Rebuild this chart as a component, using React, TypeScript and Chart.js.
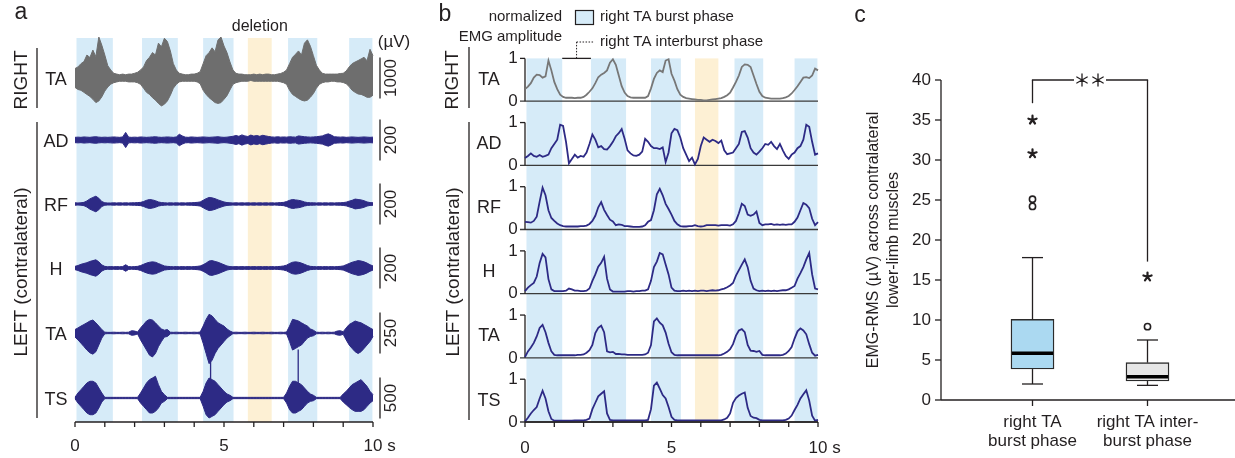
import React, { useEffect, useRef } from "react";
import { Chart, registerables } from "chart.js";
Chart.register(...registerables);

const W = 1235;
const H = 458;
const FONT = '"Liberation Sans", Arial, Helvetica, sans-serif';
const INK = "#231f20";
const NAVY = "#2d2a85";
const GRAY = "#6e6e6e";
const BURST_FILL = "#d6ebf8";
const DELETION_FILL = "#fdf0d4";
const BOX_FILLS = ["#abd9f1", "#e6e6e6"];

// ---------- shared time base (s) ----------
const TIME_S: number[] = Array.from({ length: 101 }, (_, k) => k / 10);
const X_TICKS_S = [0, 1, 2, 3, 4, 5, 6, 7, 8, 9, 10];
const X_LABELED_S = [0, 5, 10];

// phases (s)
const BURST_PHASES: number[][] = [[0.05, 1.27], [2.25, 3.45], [4.3, 5.32], [7.15, 8.13], [9.2, 9.98]];
const DELETION: number[] = [5.8, 6.6];

const MUSCLES = ["TA", "AD", "RF", "H", "TA", "TS"];
const SCALE_BARS_UV = [1000, 200, 200, 200, 250, 500];

// ---------- panel a: raw EMG extent per 0.1 s (µV, upward / downward) ----------
const RAW_R_TA_HI = [230,270,350,400,560,500,680,520,1000,800,560,300,195,115,
  95,80,95,80,95,95,115,140,195,
  270,425,505,620,560,850,760,970,890,660,350,195,
  115,95,80,80,95,95,115,155,
  350,545,620,735,640,930,1000,780,620,390,195,
  115,95,95,80,80,80,95,80,95,80,95,95,80,80,95,110,140,195,
  350,505,580,660,560,850,930,775,545,310,195,115,
  95,95,95,95,95,110,115,170,
  270,350,390,425,465,505,420,700,545];
const RAW_R_TA_LO = [230,280,300,350,400,450,520,600,560,460,320,220,150,115,
  95,80,80,80,95,95,95,115,155,
  250,350,400,480,540,620,680,640,560,420,250,155,
  95,80,80,80,80,80,95,140,
  300,400,480,540,600,620,600,520,430,290,155,
  115,95,80,80,80,60,80,80,80,80,80,80,80,80,80,95,115,155,
  300,400,450,500,540,560,540,470,380,250,155,115,
  95,95,80,80,95,95,110,140,
  210,300,350,390,400,430,470,470,420];
const RAW_AD = [13,14,13,15,14,13,15,16,14,13,14,13,14,15,14,13,15,
  37,
  14,13,14,13,15,14,13,14,15,16,14,13,14,15,14,13,15,
  28,20,
  14,13,15,14,13,14,15,14,13,14,15,16,14,13,14,16,18,
  22,18,25,20,17,24,19,22,18,23,20,17,
  15,14,16,14,15,14,16,15,14,20,18,16,15,14,15,16,18,20,
  26,30,24,
  16,15,14,15,13,14,15,14,13,14,15,14,13,14];
const RAW_RF = [6,5,6,8,
  15,25,32,38,28,12,
  6,5,5,6,5,6,5,6,5,6,6,7,8,
  12,18,22,20,16,10,7,
  6,5,6,5,6,5,6,5,6,6,7,8,10,
  18,26,32,30,26,20,15,10,7,6,
  5,6,5,6,5,6,5,6,5,6,5,6,5,6,5,6,7,8,
  12,18,22,20,18,15,10,7,6,6,
  5,6,5,6,5,6,5,6,6,7,9,
  14,18,24,22,20,16,10,7,6];
const RAW_H = [8,12,
  18,22,26,32,36,40,30,15,
  8,6,7,6,7,6,7,
  16,
  7,6,7,8,
  12,18,24,28,30,28,22,16,10,8,
  7,6,7,6,7,6,7,6,7,8,10,
  16,24,34,36,32,28,22,16,10,7,
  6,7,6,7,6,7,6,7,6,7,6,7,6,7,6,7,8,10,
  14,22,28,30,28,24,18,12,8,7,
  6,7,6,7,6,7,6,7,8,10,
  16,22,28,32,36,34,30,24,16,10];
const RAW_L_TA_HI = [21,31,42,52,62,73,79,62,42,21,
  5,4,4,5,4,4,5,4,5,14,12,6,
  31,52,73,83,79,62,42,25,17,21,
  5,4,5,4,4,5,4,4,5,4,6,
  42,83,114,104,83,62,52,42,25,12,
  4,5,4,4,5,4,4,5,4,4,5,4,4,5,4,4,5,4,6,
  42,83,79,73,62,52,42,25,17,
  5,4,5,4,5,4,5,12,14,8,
  31,52,62,73,67,62,52,42,31,21];
const RAW_L_TA_LO = [25,42,62,83,104,121,129,114,73,31,
  5,4,4,5,4,4,5,4,5,14,12,6,
  42,73,104,135,146,125,83,52,25,21,
  5,4,5,4,4,5,4,4,5,4,6,
  62,125,187,166,125,94,73,52,31,17,
  4,5,4,4,5,4,4,5,4,4,5,4,4,5,4,4,5,4,6,
  52,104,94,83,73,52,31,21,17,
  5,4,5,4,5,4,5,12,14,8,
  42,73,94,114,125,114,94,73,52,21];
const RAW_TS_HI = [10,
  61,102,142,183,204,204,183,122,61,
  8,8,8,8,8,8,8,8,8,8,8,8,
  61,122,183,224,244,265,163,81,41,
  8,8,8,8,8,8,8,8,8,8,8,8,
  81,183,244,224,204,163,122,81,49,33,
  8,8,8,8,8,8,8,8,8,8,8,8,8,8,8,8,8,8,
  61,142,204,204,183,163,122,81,49,33,
  8,8,8,8,8,8,8,8,8,
  49,81,122,163,183,204,224,183,142,81,41];
const RAW_TS_LO = [10,
  61,102,142,183,204,204,183,122,49,
  8,8,8,8,8,8,8,8,8,8,8,8,
  61,102,142,183,183,163,122,61,41,
  8,8,8,8,8,8,8,8,8,8,8,8,
  102,204,244,224,204,163,122,81,49,33,
  8,8,8,8,8,8,8,8,8,8,8,8,8,8,8,8,8,8,
  61,142,183,183,163,142,102,61,41,33,
  8,8,8,8,8,8,8,8,8,
  49,81,114,142,163,163,163,142,102,61,33];
const TS_SPIKE_T = [4.55, 7.49];
const TS_SPIKE_UV = [450, 590];

// ---------- panel b: normalized envelopes ----------
const NORM_R_TA = [0.28,0.34,0.42,0.55,0.62,0.61,0.55,0.58,0.95,0.72,
  0.45,0.28,0.15,0.10,0.08,0.08,0.08,0.07,0.08,0.08,
  0.10,0.15,0.22,0.30,0.42,0.56,0.62,0.66,0.72,0.90,
  0.98,0.85,0.60,0.35,0.20,0.12,0.09,0.08,0.08,0.08,
  0.08,0.08,0.12,0.30,0.52,0.66,0.72,0.68,0.95,0.98,
  0.64,0.48,0.28,0.15,0.10,0.07,0.06,0.05,0.04,0.03,
  0.03,0.02,0.02,0.03,0.04,0.05,0.06,0.07,0.10,0.14,
  0.20,0.32,0.45,0.60,0.80,0.86,0.85,0.80,0.60,0.40,
  0.22,0.12,0.08,0.07,0.06,0.06,0.06,0.06,0.07,0.09,
  0.12,0.18,0.26,0.35,0.45,0.55,0.56,0.54,0.60,0.76,
  0.72];
const NORM_AD = [0.17,0.22,0.28,0.22,0.20,0.24,0.20,0.22,0.25,0.40,
  0.50,0.60,0.95,0.92,0.55,0.05,0.15,0.25,0.18,0.22,
  0.20,0.30,0.50,0.72,0.60,0.42,0.45,0.38,0.37,0.45,
  0.55,0.68,0.75,0.85,0.62,0.35,0.28,0.23,0.22,0.25,
  0.32,0.62,0.55,0.45,0.40,0.40,0.38,0.42,0.08,0.30,
  0.75,0.85,0.82,0.65,0.40,0.25,0.10,0.18,0.02,0.15,
  0.45,0.65,0.60,0.55,0.60,0.57,0.52,0.58,0.35,0.26,
  0.28,0.30,0.40,0.50,0.78,0.80,0.65,0.40,0.30,0.25,
  0.32,0.40,0.50,0.48,0.55,0.45,0.38,0.50,0.35,0.22,
  0.15,0.25,0.30,0.40,0.45,0.60,0.95,0.90,0.55,0.25,
  0.28];
const NORM_RF = [0.18,0.17,0.16,0.20,0.30,0.65,0.98,0.80,0.45,0.27,
  0.20,0.14,0.10,0.08,0.07,0.07,0.07,0.07,0.07,0.08,
  0.08,0.09,0.13,0.20,0.32,0.52,0.64,0.46,0.34,0.23,
  0.19,0.10,0.12,0.11,0.08,0.08,0.07,0.06,0.06,0.06,
  0.07,0.10,0.18,0.22,0.45,0.82,0.95,0.80,0.60,0.48,
  0.35,0.20,0.12,0.08,0.07,0.07,0.08,0.08,0.10,0.08,
  0.07,0.08,0.10,0.10,0.10,0.10,0.09,0.10,0.10,0.10,
  0.09,0.12,0.20,0.38,0.60,0.55,0.35,0.32,0.35,0.42,
  0.15,0.10,0.12,0.12,0.13,0.11,0.12,0.11,0.12,0.11,
  0.12,0.12,0.18,0.28,0.45,0.62,0.58,0.50,0.25,0.10,
  0.17];
const NORM_H = [0.06,0.14,0.20,0.25,0.40,0.72,0.93,0.85,0.34,0.10,
  0.06,0.06,0.06,0.06,0.07,0.12,0.10,0.07,0.07,0.06,
  0.06,0.07,0.12,0.30,0.45,0.63,0.72,0.86,0.35,0.10,
  0.05,0.05,0.05,0.05,0.05,0.06,0.06,0.05,0.06,0.06,
  0.07,0.07,0.10,0.30,0.62,0.75,0.95,0.92,0.68,0.45,
  0.14,0.07,0.06,0.06,0.07,0.06,0.07,0.06,0.07,0.06,
  0.07,0.07,0.06,0.07,0.08,0.07,0.08,0.10,0.12,0.15,
  0.19,0.25,0.42,0.55,0.68,0.80,0.62,0.30,0.12,0.08,
  0.06,0.07,0.06,0.07,0.06,0.07,0.06,0.07,0.08,0.08,
  0.10,0.14,0.18,0.35,0.48,0.62,0.80,0.95,0.45,0.12,
  0.10];
const NORM_L_TA = [0.02,0.15,0.24,0.35,0.50,0.70,0.77,0.60,0.35,0.15,
  0.07,0.06,0.06,0.06,0.06,0.06,0.06,0.06,0.07,0.07,
  0.08,0.12,0.18,0.30,0.58,0.70,0.75,0.60,0.15,0.13,
  0.14,0.09,0.09,0.08,0.08,0.07,0.07,0.07,0.07,0.07,
  0.07,0.08,0.12,0.30,0.85,0.92,0.82,0.76,0.59,0.33,
  0.13,0.07,0.06,0.06,0.06,0.06,0.06,0.06,0.06,0.06,
  0.06,0.06,0.06,0.06,0.06,0.06,0.06,0.07,0.10,0.14,
  0.20,0.32,0.52,0.64,0.67,0.60,0.30,0.17,0.16,0.14,
  0.16,0.07,0.06,0.06,0.06,0.06,0.06,0.06,0.07,0.10,
  0.16,0.25,0.45,0.62,0.69,0.64,0.55,0.32,0.12,0.05,
  0.07];
const NORM_TS = [0.01,0.10,0.20,0.28,0.35,0.55,0.73,0.55,0.25,0.07,
  0.03,0.03,0.03,0.03,0.03,0.03,0.03,0.04,0.04,0.04,
  0.04,0.05,0.08,0.30,0.45,0.60,0.66,0.72,0.20,0.05,
  0.04,0.04,0.04,0.04,0.04,0.04,0.04,0.04,0.04,0.04,
  0.04,0.04,0.05,0.30,0.85,0.92,0.78,0.63,0.55,0.35,
  0.12,0.05,0.04,0.04,0.04,0.04,0.04,0.04,0.04,0.04,
  0.04,0.04,0.04,0.04,0.04,0.04,0.04,0.04,0.06,0.10,
  0.20,0.45,0.56,0.62,0.66,0.69,0.33,0.14,0.10,0.09,
  0.05,0.04,0.04,0.04,0.04,0.04,0.04,0.04,0.04,0.05,
  0.08,0.15,0.28,0.40,0.55,0.65,0.74,0.50,0.15,0.03,
  0.05];

// ---------- panel c: box plot ----------
const CATEGORIES = ["right TA burst phase", "right TA inter-burst phase"];
const CATEGORY_LINES = [["right TA", "burst phase"], ["right TA inter-", "burst phase"]];
const BOX_MIN = [2.0, 1.83];
const BOX_Q1 = [3.87, 2.37];
const BOX_MEDIAN = [5.83, 2.92];
const BOX_Q3 = [10.08, 4.67];
const BOX_MAX = [17.8, 7.5];
const OUTLIER_CIRCLES = [[25.1, 24.2], [9.17]];
const OUTLIER_STARS = [[35.0, 30.8], [15.4]];
const Y_TICKS_C = [0, 5, 10, 15, 20, 25, 30, 35, 40];
const SIG_LEVEL = 40;
const SIG_ENDS = [37.1, 17.3];
const Y_TITLE_C = ["EMG-RMS (µV) across contralateral", "lower-limb muscles"];

// ---------- layout constants ----------
const A_BASE = [344, 282, 218, 154, 89, 24]; // px above x axis
const A_BAR_PX = 41;
const B_ROW_STEP = 1.5;

// ---------- drawing helpers ----------
function txt(ctx: CanvasRenderingContext2D, s: string, x: number, y: number, size: number, o: any = {}) {
  ctx.save();
  ctx.font = `${o.weight || "normal"} ${size}px ${FONT}`;
  ctx.fillStyle = o.color || INK;
  ctx.textAlign = o.align || "center";
  ctx.textBaseline = "middle";
  ctx.translate(x, y);
  if (o.rot) ctx.rotate(o.rot);
  ctx.fillText(s, 0, 0);
  ctx.restore();
}
function seg(ctx: CanvasRenderingContext2D, x1: number, y1: number, x2: number, y2: number, color = INK, w = 1.2, dash: number[] = []) {
  ctx.save();
  ctx.strokeStyle = color;
  ctx.lineWidth = w;
  ctx.setLineDash(dash);
  ctx.beginPath();
  ctx.moveTo(x1, y1);
  ctx.lineTo(x2, y2);
  ctx.stroke();
  ctx.restore();
}
function asterisk(ctx: CanvasRenderingContext2D, x: number, y: number, r: number, arms: number, w: number) {
  ctx.save();
  ctx.strokeStyle = INK;
  ctx.lineWidth = w;
  ctx.lineCap = "round";
  ctx.beginPath();
  for (let i = 0; i < arms; i++) {
    const a = -Math.PI / 2 + (i * 2 * Math.PI) / arms;
    ctx.moveTo(x, y);
    ctx.lineTo(x + r * Math.cos(a), y + r * Math.sin(a));
  }
  ctx.stroke();
  ctx.restore();
}
function timeAxis(ctx: CanvasRenderingContext2D, x: any, y0: number, labelY: number) {
  seg(ctx, x.getPixelForValue(0), y0, x.getPixelForValue(10), y0, INK, 1.3);
  X_TICKS_S.forEach((t) => {
    const px = x.getPixelForValue(t);
    seg(ctx, px, y0, px, y0 + 5, INK, 1.3);
  });
  X_LABELED_S.forEach((t) => {
    const px = x.getPixelForValue(t);
    txt(ctx, String(t), px, labelY, 17);
    if (t === 10) {
      ctx.save();
      ctx.font = `17px ${FONT}`;
      const wNum = ctx.measureText("10").width;
      ctx.restore();
      txt(ctx, " s", px + wNum / 2, labelY, 17, { align: "left" });
    }
  });
}
function shading(ctx: CanvasRenderingContext2D, x: any, top: number, bottom: number) {
  ctx.save();
  ctx.fillStyle = BURST_FILL;
  BURST_PHASES.forEach(([a, b]) => {
    const pa = x.getPixelForValue(a);
    ctx.fillRect(pa, top, x.getPixelForValue(b) - pa, bottom - top);
  });
  ctx.fillStyle = DELETION_FILL;
  const pd = x.getPixelForValue(DELETION[0]);
  ctx.fillRect(pd, top, x.getPixelForValue(DELETION[1]) - pd, bottom - top);
  ctx.restore();
}

function commonOptions(padding: any, xmin: number, xmax: number, ymin: number, ymax: number) {
  return {
    animation: false,
    responsive: false,
    maintainAspectRatio: false,
    events: [],
    layout: { padding },
    plugins: { legend: { display: false }, tooltip: { enabled: false } },
    scales: {
      x: { type: "linear", display: false, min: xmin, max: xmax },
      y: { type: "linear", display: false, min: ymin, max: ymax },
    },
    elements: { line: { tension: 0 }, point: { radius: 0 } },
  };
}

// ---------- panel a ----------
function panelAConfig(): any {
  const rows = [
    { hi: RAW_R_TA_HI, lo: RAW_R_TA_LO, color: GRAY },
    { hi: RAW_AD, lo: RAW_AD, color: NAVY },
    { hi: RAW_RF, lo: RAW_RF, color: NAVY },
    { hi: RAW_H, lo: RAW_H, color: NAVY },
    { hi: RAW_L_TA_HI, lo: RAW_L_TA_LO, color: NAVY },
    { hi: RAW_TS_HI, lo: RAW_TS_LO, color: NAVY },
  ];
  const datasets: any[] = [];
  rows.forEach((r, i) => {
    const k = A_BAR_PX / SCALE_BARS_UV[i];
    // raw trace: filled band between upward and downward extremes
    datasets.push({
      data: TIME_S.map((t, j) => ({ x: t, y: A_BASE[i] + r.hi[j] * k })),
      borderColor: r.color, backgroundColor: r.color, borderWidth: 1, fill: "+1", pointRadius: 0, clip: 6,
    });
    datasets.push({
      data: TIME_S.map((t, j) => ({ x: t, y: A_BASE[i] - r.lo[j] * k })),
      borderColor: r.color, borderWidth: 1, fill: false, pointRadius: 0, clip: 6,
    });
  });
  const spikes: any[] = [];
  TS_SPIKE_T.forEach((t, i) => {
    spikes.push({ x: t, y: A_BASE[5] }, { x: t, y: A_BASE[5] + (TS_SPIKE_UV[i] * A_BAR_PX) / SCALE_BARS_UV[5] }, { x: t, y: null });
  });
  datasets.push({ data: spikes, borderColor: NAVY, borderWidth: 1.3, fill: false, pointRadius: 0, spanGaps: false, clip: 60 });

  const plugin = {
    id: "panelA",
    beforeDatasetsDraw(chart: any) {
      const { ctx, chartArea: ca, scales } = chart;
      shading(ctx, scales.x, ca.top, ca.bottom);
    },
    afterDraw(chart: any) {
      const { ctx, scales } = chart;
      const x = scales.x, y = scales.y;
      timeAxis(ctx, x, y.getPixelForValue(0), 446);
      A_BASE.forEach((b, i) => {
        const py = y.getPixelForValue(b);
        txt(ctx, MUSCLES[i], 56, py + 2, 18);
        const y1 = y.getPixelForValue(b + A_BAR_PX / 2);
        const y2 = y.getPixelForValue(b - A_BAR_PX / 2);
        seg(ctx, 380, y1, 380, y2, INK, 1.3);
        txt(ctx, String(SCALE_BARS_UV[i]), 391, py, 17, { rot: -Math.PI / 2 });
      });
      txt(ctx, "(µV)", 394, 42, 17);
      txt(ctx, "deletion", (x.getPixelForValue(DELETION[0]) + x.getPixelForValue(DELETION[1])) / 2, 27, 16);
      txt(ctx, "a", 21, 13, 23);
      txt(ctx, "RIGHT", 22, 80, 19, { rot: -Math.PI / 2 });
      seg(ctx, 37, 48, 37, 108, INK, 1.3);
      txt(ctx, "LEFT (contralateral)", 22, 272, 19, { rot: -Math.PI / 2 });
      seg(ctx, 37, 122, 37, 418, INK, 1.3);
    },
  };
  return {
    type: "line",
    data: { datasets },
    options: commonOptions({ left: 75, right: W - 373, top: 38, bottom: H - 422 }, 0, 10, 0, 384),
    plugins: [plugin],
  };
}

// ---------- panel b ----------
function panelBConfig(): any {
  const series = [NORM_R_TA, NORM_AD, NORM_RF, NORM_H, NORM_L_TA, NORM_TS];
  const datasets = series.map((arr, i) => {
    const base = (5 - i) * B_ROW_STEP;
    return {
      data: TIME_S.map((t, j) => ({ x: t, y: base + arr[j] })),
      borderColor: i === 0 ? "#777777" : NAVY,
      borderWidth: 1.8,
      fill: false,
      pointRadius: 0,
      clip: 6,
    };
  });
  const plugin = {
    id: "panelB",
    beforeDatasetsDraw(chart: any) {
      const { ctx, chartArea: ca, scales } = chart;
      const x = scales.x, y = scales.y;
      shading(ctx, x, y.getPixelForValue(5 * B_ROW_STEP + 1), ca.bottom);
      const x0 = x.getPixelForValue(0);
      for (let i = 0; i < 6; i++) {
        const base = (5 - i) * B_ROW_STEP;
        const p0 = y.getPixelForValue(base);
        const p1 = y.getPixelForValue(base + 1);
        seg(ctx, x0 - 5, p0, x.getPixelForValue(10), p0, "#3a3a3a", 1.3);
        seg(ctx, x0, p0, x0, p1, INK, 1.3);
        seg(ctx, x0 - 5, p1, x0, p1, INK, 1.3);
      }
    },
    afterDraw(chart: any) {
      const { ctx, scales } = chart;
      const x = scales.x, y = scales.y;
      timeAxis(ctx, x, y.getPixelForValue(0), 448);
      for (let i = 0; i < 6; i++) {
        const base = (5 - i) * B_ROW_STEP;
        txt(ctx, "1", 513, y.getPixelForValue(base + 1), 17);
        txt(ctx, "0", 513, y.getPixelForValue(base), 17);
        txt(ctx, MUSCLES[i], 489, y.getPixelForValue(base + 0.5), 18);
      }
      txt(ctx, "b", 445, 15, 23);
      txt(ctx, "RIGHT", 453, 80, 19, { rot: -Math.PI / 2 });
      seg(ctx, 469, 47, 469, 108, INK, 1.3);
      txt(ctx, "LEFT (contralateral)", 454, 272, 19, { rot: -Math.PI / 2 });
      seg(ctx, 469, 122, 469, 420, INK, 1.3);
      txt(ctx, "normalized", 562, 17, 15, { align: "right" });
      txt(ctx, "EMG amplitude", 562, 37, 15, { align: "right" });
      // legend
      ctx.save();
      ctx.fillStyle = BURST_FILL;
      ctx.fillRect(575, 10, 18, 14);
      ctx.strokeStyle = INK;
      ctx.lineWidth = 1.2;
      ctx.strokeRect(575.5, 10.5, 18, 14);
      ctx.restore();
      txt(ctx, "right TA burst phase", 600, 17, 15, { align: "left" });
      txt(ctx, "right TA interburst phase", 600, 42, 15, { align: "left" });
      const ia = x.getPixelForValue(BURST_PHASES[0][1]);
      const ib = x.getPixelForValue(BURST_PHASES[1][0]);
      const yTop = y.getPixelForValue(5 * B_ROW_STEP + 1);
      seg(ctx, ia, yTop, ib, yTop, INK, 1.3);
      const mid = (ia + ib) / 2;
      seg(ctx, mid, yTop, mid, 42, INK, 1, [1.5, 1.5]);
      seg(ctx, mid, 42, 594, 42, INK, 1, [1.5, 1.5]);
    },
  };
  return {
    type: "line",
    data: { datasets },
    options: commonOptions({ left: 525, right: W - 818, top: 37, bottom: H - 422 }, 0, 10, 0, 6 * B_ROW_STEP),
    plugins: [plugin],
  };
}

// ---------- panel c ----------
function panelCConfig(): any {
  const circles: any[] = [];
  OUTLIER_CIRCLES.forEach((vals, i) => vals.forEach((v) => circles.push({ x: CATEGORIES[i], y: v })));
  const plugin = {
    id: "panelC",
    afterDatasetsDraw(chart: any) {
      const { ctx, scales } = chart;
      const x = scales.x, y = scales.y;
      CATEGORIES.forEach((c, i) => {
        const cx = x.getPixelForValue(i);
        seg(ctx, cx, y.getPixelForValue(BOX_Q3[i]), cx, y.getPixelForValue(BOX_MAX[i]), INK, 1.3);
        seg(ctx, cx, y.getPixelForValue(BOX_Q1[i]), cx, y.getPixelForValue(BOX_MIN[i]), INK, 1.3);
        seg(ctx, cx - 10.5, y.getPixelForValue(BOX_MAX[i]), cx + 10.5, y.getPixelForValue(BOX_MAX[i]), INK, 1.3);
        seg(ctx, cx - 10.5, y.getPixelForValue(BOX_MIN[i]), cx + 10.5, y.getPixelForValue(BOX_MIN[i]), INK, 1.3);
        seg(ctx, cx - 20.5, y.getPixelForValue(BOX_MEDIAN[i]), cx + 20.5, y.getPixelForValue(BOX_MEDIAN[i]), "#000", 3.5);
        OUTLIER_STARS[i].forEach((v) => asterisk(ctx, cx, y.getPixelForValue(v), 4.3, 5, 2.2));
      });
      // significance bracket
      const xl = x.getPixelForValue(0), xr = x.getPixelForValue(1);
      const yt = y.getPixelForValue(SIG_LEVEL);
      const cxm = (xl + xr) / 2;
      seg(ctx, xl, y.getPixelForValue(SIG_ENDS[0]), xl, yt, INK, 1.3);
      seg(ctx, xr, y.getPixelForValue(SIG_ENDS[1]), xr, yt, INK, 1.3);
      seg(ctx, xl - 0.6, yt, cxm - 16, yt, INK, 1.3);
      seg(ctx, cxm + 16, yt, xr + 0.6, yt, INK, 1.3);
      asterisk(ctx, cxm - 8, yt, 6, 6, 1.3);
      asterisk(ctx, cxm + 8, yt, 6, 6, 1.3);
    },
    afterDraw(chart: any) {
      const { ctx, scales } = chart;
      const x = scales.x, y = scales.y;
      const ax = 941;
      const y0 = y.getPixelForValue(0);
      seg(ctx, ax, y0, ax, y.getPixelForValue(40), INK, 1.3);
      Y_TICKS_C.forEach((v) => {
        const py = y.getPixelForValue(v);
        seg(ctx, ax - 6, py, ax, py, INK, 1.3);
        txt(ctx, String(v), 931, py, 17, { align: "right" });
      });
      seg(ctx, ax, y0, W, y0, INK, 1.3);
      CATEGORIES.forEach((c, i) => {
        const cx = x.getPixelForValue(i);
        seg(ctx, cx, y0, cx, y0 + 6, INK, 1.3);
        txt(ctx, CATEGORY_LINES[i][0], cx, 422, 17);
        txt(ctx, CATEGORY_LINES[i][1], cx, 441, 17);
      });
      const ym = (y.getPixelForValue(0) + y.getPixelForValue(40)) / 2;
      txt(ctx, Y_TITLE_C[0], 874, ym, 16, { rot: -Math.PI / 2 });
      txt(ctx, Y_TITLE_C[1], 894, ym, 16, { rot: -Math.PI / 2 });
      txt(ctx, "c", 860, 16, 23);
    },
  };
  return {
    type: "bar",
    data: {
      labels: CATEGORIES,
      datasets: [
        {
          type: "bar",
          data: BOX_Q1.map((q, i) => [q, BOX_Q3[i]]),
          backgroundColor: BOX_FILLS,
          borderColor: "#2b2b2b",
          borderWidth: 1.4,
          borderSkipped: false,
          barThickness: 43,
        },
        {
          type: "scatter",
          data: circles,
          pointRadius: 3.1,
          pointBackgroundColor: "#ffffff",
          pointBorderColor: INK,
          pointBorderWidth: 1.6,
          showLine: false,
        },
      ],
    },
    options: {
      animation: false,
      responsive: false,
      maintainAspectRatio: false,
      events: [],
      layout: { padding: { left: 975, right: W - 1205, top: 80, bottom: H - 400 } },
      plugins: { legend: { display: false }, tooltip: { enabled: false } },
      scales: {
        x: { type: "category", display: false, offset: true },
        y: { type: "linear", display: false, min: 0, max: 40 },
      },
    },
    plugins: [plugin],
  };
}

export default function App() {
  const refA = useRef<HTMLCanvasElement>(null);
  const refB = useRef<HTMLCanvasElement>(null);
  const refC = useRef<HTMLCanvasElement>(null);
  useEffect(() => {
    const charts = [
      new Chart(refA.current as any, panelAConfig()),
      new Chart(refB.current as any, panelBConfig()),
      new Chart(refC.current as any, panelCConfig()),
    ];
    return () => charts.forEach((c) => c.destroy());
  }, []);
  const cs: any = { position: "absolute", left: 0, top: 0, width: W, height: H };
  return (
    <div style={{ position: "absolute", left: 0, top: 0, width: W, height: H, background: "#fff", overflow: "hidden" }}>
      <canvas ref={refA} width={W} height={H} style={cs} />
      <canvas ref={refB} width={W} height={H} style={cs} />
      <canvas ref={refC} width={W} height={H} style={cs} />
    </div>
  );
}
